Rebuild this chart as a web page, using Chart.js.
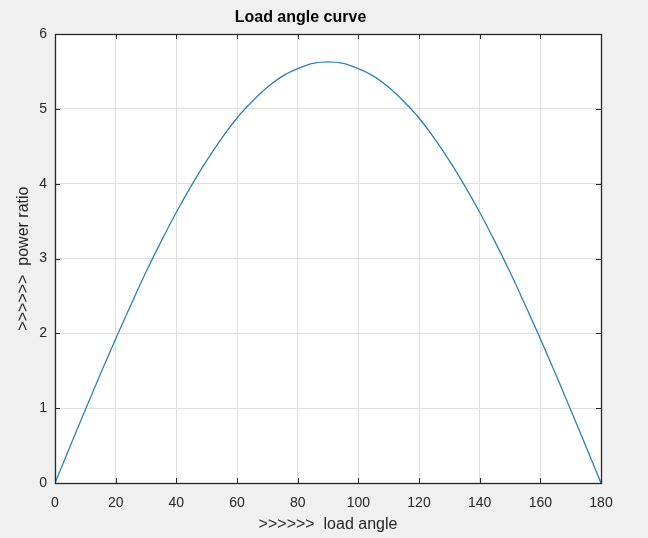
<!DOCTYPE html>
<html>
<head>
<meta charset="utf-8">
<script src="https://cdn.jsdelivr.net/npm/chart.js@4/dist/chart.umd.min.js"></script>
<style>
  html, body { margin: 0; padding: 0; background: #f0f0f0; }
  #wrap { width: 648px; height: 538px; }
</style>
</head>
<body>
<div id="wrap"><canvas id="c" width="648" height="538"></canvas></div>
<script>
// ---- data ----
const loadAngle = [0, 5, 10, 15, 20, 25, 30, 35, 40, 45, 50, 55, 60, 65, 70, 75, 80, 85, 90,
                   95, 100, 105, 110, 115, 120, 125, 130, 135, 140, 145, 150, 155, 160, 165, 170, 175, 180];
const powerRatio = [0, 0.49, 0.98, 1.46, 1.93, 2.38, 2.82, 3.23, 3.62, 3.98, 4.31, 4.61, 4.88, 5.10, 5.29, 5.44, 5.54, 5.61, 5.63,
                    5.61, 5.54, 5.44, 5.29, 5.10, 4.88, 4.61, 4.31, 3.98, 3.62, 3.23, 2.82, 2.38, 1.93, 1.46, 0.98, 0.49, 0];
const xTicks = [0, 20, 40, 60, 80, 100, 120, 140, 160, 180];
const yTicks = [0, 1, 2, 3, 4, 5, 6];
const titleText = 'Load angle curve';
const xTitle = '>>>>>>  load angle';
const yTitle = '>>>>>>  power ratio';

const FONT = '"Liberation Sans", Arial, Helvetica, sans-serif';
const AXIS = '#262626';

const bgPlugin = {
  id: 'plotBg',
  beforeDraw(chart) {
    const {ctx, chartArea: a} = chart;
    ctx.save();
    ctx.fillStyle = '#f0f0f0';
    ctx.fillRect(0, 0, chart.width, chart.height);
    ctx.fillStyle = '#ffffff';
    ctx.fillRect(a.left, a.top, a.right - a.left, a.bottom - a.top);
    ctx.restore();
  }
};

const framePlugin = {
  id: 'frame',
  afterDraw(chart) {
    const {ctx, chartArea: a, scales} = chart;
    const L = 5;
    ctx.save();
    ctx.strokeStyle = AXIS;
    ctx.lineWidth = 1;
    ctx.beginPath();
    scales.x.ticks.forEach(t => {
      const px = Math.round(scales.x.getPixelForValue(t.value)) + 0.5;
      ctx.moveTo(px, a.bottom); ctx.lineTo(px, a.bottom - L);
      ctx.moveTo(px, a.top); ctx.lineTo(px, a.top + L);
    });
    scales.y.ticks.forEach(t => {
      const py = Math.round(scales.y.getPixelForValue(t.value)) + 0.5;
      ctx.moveTo(a.left, py); ctx.lineTo(a.left + L, py);
      ctx.moveTo(a.right, py); ctx.lineTo(a.right - L, py);
    });
    ctx.stroke();
    ctx.lineWidth = 1.3;
    ctx.strokeRect(Math.round(a.left) + 0.5, Math.round(a.top) + 0.5,
                   Math.round(a.right - a.left), Math.round(a.bottom - a.top));
    ctx.restore();
  }
};

new Chart(document.getElementById('c'), {
  type: 'line',
  data: {
    datasets: [{
      data: loadAngle.map((x, i) => ({x: x, y: powerRatio[i]})),
      borderColor: '#2f80b8',
      borderWidth: 1.3,
      pointRadius: 0,
      fill: false,
      cubicInterpolationMode: 'monotone'
    }]
  },
  options: {
    responsive: false,
    animation: false,
    devicePixelRatio: 1,
    layout: { padding: { left: 0, right: 47, top: 0, bottom: 0 } },
    plugins: {
      legend: { display: false },
      tooltip: { enabled: false },
      title: {
        display: true,
        text: titleText,
        color: '#000000',
        font: { family: FONT, size: 16, weight: 'bold', lineHeight: 1.2 },
        padding: { top: 8, bottom: 7 }
      }
    },
    scales: {
      x: {
        type: 'linear',
        min: 0, max: 180,
        afterFit(s) { s.height = 55; },
        afterBuildTicks(s) { s.ticks = xTicks.map(v => ({value: v})); },
        ticks: { color: AXIS, font: { family: FONT, size: 14 }, padding: 12, maxRotation: 0 },
        grid: { color: '#e0e0e0', lineWidth: 1, drawTicks: false },
        border: { display: false },
        title: {
          display: true, text: xTitle, color: AXIS,
          font: { family: FONT, size: 16, lineHeight: 1.2 },
          padding: { top: 0, bottom: 4 }
        }
      },
      y: {
        type: 'linear',
        min: 0, max: 6,
        afterFit(s) { s.width = 55; },
        afterBuildTicks(s) { s.ticks = yTicks.map(v => ({value: v})); },
        ticks: { color: AXIS, font: { family: FONT, size: 14 }, padding: 8 },
        grid: { color: '#e0e0e0', lineWidth: 1, drawTicks: false },
        border: { display: false },
        title: {
          display: true, text: yTitle, color: AXIS,
          font: { family: FONT, size: 16, lineHeight: 1.2 },
          padding: { top: 14, bottom: 0 }
        }
      }
    }
  },
  plugins: [bgPlugin, framePlugin]
});
</script>
</body>
</html>
